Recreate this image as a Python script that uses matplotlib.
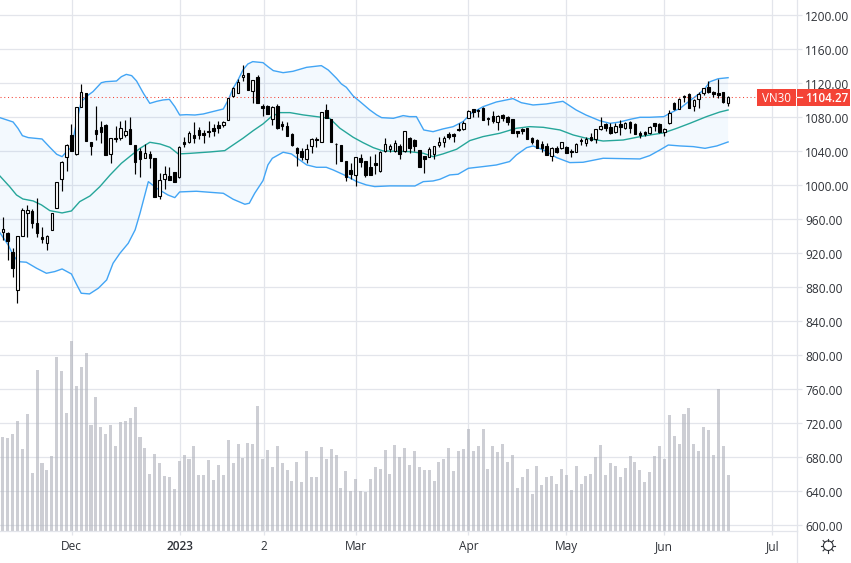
import numpy as np
import matplotlib
matplotlib.use("Agg")
import matplotlib.pyplot as plt
from matplotlib.lines import Line2D
from matplotlib.patches import Rectangle, Circle
from matplotlib.transforms import ScaledTranslation

# OHLC, one bar per trading day
opens = [945.5, 944.3, 922, 877.3, 940.8, 967.1, 969.8, 955.3, 938.9, 931.8,
         947.5, 973, 1007.1, 1033.7, 1058.8, 1036.9, 1092.5, 1108.2, 1050.6, 1064.7,
         1068.2, 1070.6, 1037.2, 1055.7, 1055.3, 1059.6, 1065.9, 1047.4, 1040.4, 1032.5,
         1036.5, 1031.8, 987.9, 1007.8, 1011, 1015.7, 1009.4, 1051, 1051.4, 1058.8,
         1065.1, 1061.6, 1064.3, 1067.1, 1070.6, 1071.4, 1076.5, 1105.5, 1109, 1127,
         1131.8, 1111.4, 1127, 1093, 1093, 1077.7, 1093.3, 1071.8, 1069.8, 1060.4,
         1043.9, 1040.8, 1031.4, 1046.7, 1054.5, 1051.4, 1088.2, 1077.7, 1049, 1047.1,
         1028.3, 1018.1, 1012.6, 1032.2, 1028.3, 1021.2, 1025.9, 1016.5, 1040.4, 1043.2,
         1040, 1046.3, 1040.8, 1055.3, 1053.3, 1041.2, 1034.5, 1033.3, 1036.9, 1047.5,
         1051, 1060, 1060, 1066.3, 1066.7, 1079.6, 1089.4, 1088.6, 1091, 1078.8,
         1081.2, 1074.1, 1082.3, 1080.8, 1078, 1063.9, 1065.9, 1067, 1055.3, 1053.7,
         1048.2, 1046.7, 1034.5, 1044.3, 1043.9, 1045.1, 1040, 1039.6, 1052.9, 1050.2,
         1056.5, 1054.1, 1065.9, 1072.1, 1068.2, 1062.7, 1072.1, 1067.8, 1074.1, 1072.1,
         1061.9, 1062.7, 1061.9, 1072.9, 1071.7, 1062.7, 1072.9, 1097.2, 1089.8, 1105.5,
         1107, 1093.7, 1101.9, 1109, 1115.6, 1109.4, 1108.2, 1109.4, 1097.2]
closes = [948.3, 934.5, 902.8, 940.4, 970.6, 970.6, 956.1, 944.3, 936.9, 940.4,
          967.1, 1003.5, 1027.8, 1047.8, 1040, 1091.7, 1109.4, 1052.5, 1046.7, 1060.8,
          1062.7, 1036.1, 1055.3, 1054.5, 1067, 1063.5, 1049, 1027.8, 1031, 1037.6,
          1032.5, 986.7, 1005.9, 1013, 1006.3, 1004.3, 1045.5, 1048.6, 1061.2, 1055.7,
          1059.2, 1059.6, 1062.3, 1064, 1067.1, 1074.1, 1102.8, 1114.1, 1121.2, 1129.4,
          1112.2, 1123.5, 1097.3, 1091, 1084.3, 1092.6, 1067.5, 1070.2, 1058.5, 1047.5,
          1038.1, 1033.8, 1042.4, 1054.1, 1053.4, 1085.9, 1078.8, 1050.6, 1048.3, 1029,
          1010.2, 1013.4, 1033, 1027.5, 1012.2, 1012.6, 1024, 1039.6, 1049, 1045.9,
          1049.4, 1036.5, 1063.9, 1044.3, 1046.3, 1022, 1030.6, 1042.4, 1045.9, 1050.6,
          1055.3, 1056.5, 1058.4, 1065.5, 1073.3, 1087.4, 1086.3, 1087.4, 1077.2, 1078,
          1076.1, 1081.6, 1078.8, 1074.5, 1062, 1062, 1063.5, 1054.9, 1051.4, 1043.9,
          1043.5, 1036.1, 1044.3, 1039.2, 1050.6, 1038.1, 1039.2, 1048.6, 1052.6, 1054.1,
          1053.7, 1065.9, 1069.8, 1067, 1061.2, 1069.8, 1068.2, 1072.9, 1067, 1060.4,
          1058.8, 1060.4, 1068.6, 1070.2, 1062.7, 1066.6, 1085.5, 1089.4, 1101.5, 1104.3,
          1091.3, 1100.4, 1107.8, 1114.1, 1109.4, 1107, 1106.6, 1097.6, 1104.27]
highs = [962.4, 945.1, 925.9, 940.4, 973.7, 976.5, 971.8, 984.7, 950.6, 941.6,
         967.1, 1003.9, 1028.2, 1048.2, 1071.7, 1091.7, 1119.2, 1108.2, 1051.4, 1093.3,
         1075.7, 1071.7, 1055.3, 1069.8, 1075.7, 1076.8, 1080, 1047.8, 1043.5, 1048.2,
         1040.4, 1031.8, 1014.1, 1022.7, 1021.2, 1016.1, 1045.9, 1057.2, 1064.3, 1074.1,
         1069, 1065.1, 1075.7, 1072.2, 1076.1, 1076.1, 1102.8, 1115.3, 1124.7, 1141.6,
         1131.8, 1123.9, 1129.4, 1095.3, 1094.5, 1093.3, 1095.3, 1075.7, 1074.9, 1061.2,
         1045.1, 1043.6, 1048.7, 1055.3, 1057.3, 1086.3, 1095.7, 1078, 1049.4, 1047.5,
         1029, 1025.9, 1033, 1036.9, 1029, 1034.5, 1036.9, 1040, 1055.3, 1048.7,
         1053.4, 1048.7, 1064.3, 1057.3, 1054.5, 1041.6, 1034.9, 1045.5, 1046.7, 1056.5,
         1058, 1063.1, 1061.2, 1073.7, 1076.1, 1088.6, 1089.4, 1089.4, 1092.5, 1080,
         1087, 1082.7, 1083.9, 1082, 1078.4, 1064.3, 1067.8, 1067, 1056.5, 1054.1,
         1052.2, 1049.4, 1045.5, 1046.3, 1051, 1046.7, 1042.4, 1049.4, 1055.3, 1056.5,
         1061.2, 1066.3, 1080, 1073.7, 1073.7, 1072.9, 1076.8, 1074.9, 1075.7, 1072.9,
         1064.3, 1064.3, 1069.8, 1073.7, 1073.7, 1067.4, 1088.6, 1098, 1102.3, 1106.2,
         1109, 1101.1, 1110.2, 1114.9, 1123.1, 1111.3, 1124.7, 1110.2, 1105.5]
lows = [935.7, 912.2, 892.6, 862, 940.8, 939.6, 949.4, 939.6, 931.8, 924,
        947.5, 973, 993.7, 1017.3, 1040, 1036.1, 1092.5, 1052.5, 1035.7, 1053.3,
        1050.2, 1036.1, 1026.7, 1051.4, 1053.3, 1057.2, 1049, 1013.3, 1010.2, 1031.8,
        1020.8, 986.7, 983.9, 995.3, 1006.3, 1004.3, 1009, 1045.1, 1050.2, 1050.2,
        1054.5, 1049.4, 1057.2, 1058.5, 1062, 1068.3, 1076.5, 1103.5, 1108.2, 1123.1,
        1112.2, 1097.3, 1097.3, 1081.6, 1084.3, 1071, 1066.7, 1065.1, 1058.5, 1046.7,
        1023.2, 1029.8, 1026.7, 1037.7, 1045.5, 1051.4, 1078.8, 1050.6, 1025.5, 1029,
        1005.5, 1007.1, 999.7, 1022, 1009.5, 1012.6, 1013, 1016.1, 1039.6, 1038.9,
        1039.2, 1031.4, 1039.6, 1038.4, 1040.8, 1021.2, 1014.9, 1033, 1031.4, 1044.7,
        1045.5, 1054.1, 1051.4, 1063.9, 1065.1, 1078.8, 1080.8, 1080.8, 1076.9, 1070.6,
        1072.9, 1065.1, 1076.1, 1070.6, 1062, 1057.3, 1060.4, 1054.5, 1048.6, 1043.5,
        1039.6, 1036.1, 1028.6, 1037.7, 1042.8, 1037.7, 1033.7, 1039.2, 1047.5, 1046.3,
        1052.2, 1050.2, 1065.1, 1064.3, 1060.4, 1062, 1059.6, 1066.6, 1061.9, 1060.4,
        1056.1, 1057.6, 1060.8, 1064.3, 1061.2, 1058, 1072.5, 1088.6, 1089.4, 1098.4,
        1090.6, 1087.8, 1090.6, 1106.6, 1108.2, 1104.3, 1103.1, 1096.8, 1093.7]

# Volume bar tops, given on the price scale the bars are seen against
vol_tops = [704, 702.8, 707.5, 722.8, 689.9, 731, 661.6, 782.8, 673.4, 665.2,
            681.6, 798, 781.6, 732.2, 816.9, 764, 786.3, 802.8, 718, 751,
            715.7, 707.5, 718, 693.4, 721.6, 722.8, 726.3, 739.2, 704, 691,
            660.5, 684, 673.4, 658.1, 657, 642.8, 675.7, 682.8, 678, 693.4,
            659.3, 659.3, 676.9, 653.4, 671, 659.3, 700.4, 673.4, 695.7, 679.3,
            696.9, 695.7, 740.4, 678, 688.7, 668.7, 693.4, 673.3, 665.1, 652.2,
            674.5, 651, 687.4, 656.9, 656.9, 692.1, 678, 689.8, 682.7, 644,
            663.9, 640.4, 654.5, 640.4, 639.2, 654.5, 668.6, 666.3, 688.6, 660.4,
            694.5, 680.4, 691, 671, 687.4, 668.6, 665.1, 665.1, 652.2, 674.5,
            678, 691, 663.9, 687.4, 689.8, 713.3, 687.4, 693.3, 713.3, 666.3,
            693.3, 686.3, 695.7, 674.5, 682.7, 644, 656.9, 666.3, 636.9, 669.8,
            647.5, 656.9, 658, 648.6, 666.3, 659.2, 641.6, 669.8, 648.6, 658,
            660.4, 680.4, 694.5, 659.2, 673.3, 669.8, 656.9, 667.4, 681.6, 674.5,
            665.1, 651, 662.7, 681.6, 693.3, 678, 729.8, 705.1, 695.7, 731,
            738, 695.7, 687.4, 715.7, 712.1, 682.7, 760.4, 693.3, 659.2]

# Bollinger bands, read at the bar positions where the curves bend
upper_idx = [-0.6, 2.1, 3.1, 4, 5.2, 8, 9.6, 11, 12.1, 13, 14, 15, 16, 17.2, 18.4, 20.1, 21, 23.2,
             24.2, 25.2, 26.3, 27.3, 28.7, 30, 31.4, 32.7, 34, 35.1, 36.1, 37.5, 39.2, 40.9, 42.2,
             45, 46, 47, 48, 49, 50, 51, 53.1, 54.1, 55.2, 57.2, 59.2, 62, 65, 66.4, 68.1, 69.1,
             70.1, 71.5, 72.9, 74.9, 76.3, 77.3, 79.7, 81.7, 83, 84.4, 85.9, 87.8, 89.8, 91.9,
             93.9, 95.6, 98, 100.7, 104.1, 105.8, 108.2, 110.9, 114.3, 117, 119, 121.8, 123.9,
             125.9, 128, 130, 132, 134.9, 136.1, 138.2, 140.2, 142.2, 143.3, 144.3, 146, 148]
upper = [1079.6, 1074.5, 1067, 1058.4, 1056.1, 1054.5, 1044.7, 1036.5, 1033.7, 1039.6, 1044.7, 1072.9,
         1098.4, 1105.1, 1110.2, 1120.7, 1121.9, 1122.7, 1127.8, 1130.5, 1129, 1122.7, 1108.2, 1096.4,
         1098.8, 1100.4, 1101.1, 1092.5, 1082.7, 1083.1, 1082.7, 1083.9, 1085.8, 1089.8, 1100.4, 1114.1,
         1123.9, 1135.7, 1142.7, 1145.5, 1144.3, 1139.6, 1134.9, 1132.5, 1134.1, 1138.8, 1140.8, 1135.7,
         1125.9, 1119.2, 1115.3, 1105.1, 1098.4, 1088.6, 1082.8, 1079.6, 1078.8, 1082, 1080.8, 1080.8,
         1065.1, 1063.1, 1066.3, 1069, 1074.9, 1084.7, 1092.5, 1098, 1102, 1097.2, 1094.5, 1095.7, 1098.8,
         1088.6, 1082.7, 1076, 1072.9, 1074.5, 1077.6, 1080, 1080, 1080.8, 1084.7, 1090.6, 1099.6, 1108.2,
         1114.1, 1121.9, 1125.4, 1126.6]

middle_idx = [-0.6, 1.4, 2.8, 4.1, 6.2, 7.9, 9.6, 12.1, 14, 15.7, 17.8, 19.8, 21.9, 24.2, 26.3, 28, 30,
              32.1, 34.1, 35.8, 38.2, 42.2, 45.3, 47, 49, 51.1, 53.1, 54.8, 56.5, 58.6, 61.3, 64, 66.7,
              68.8, 71.5, 73.5, 75.6, 77.6, 83, 85.8, 87.8, 89.8, 92.6, 95.3, 98, 101.4, 104.8, 107.5,
              110.3, 113.7, 116.4, 119.1, 122.5, 126.6, 130.7, 134.8, 137.5, 140.2, 143.6, 146.3, 148]
middle = [1011, 998.4, 988.6, 983.9, 981.6, 976.9, 970.2, 967.5, 969.8, 980.8, 987.5, 998.4, 1012.2,
          1025.9, 1035.7, 1043.5, 1050.6, 1048.6, 1044.7, 1036.9, 1037.6, 1039.2, 1040.8, 1047.5, 1055.3,
          1064.3, 1072.2, 1080.8, 1085.5, 1085.5, 1082.8, 1080.8, 1078.8, 1067.1, 1056.5, 1050.2, 1044.3,
          1040.4, 1039.6, 1037.7, 1033.7, 1036.9, 1042.4, 1052.6, 1057.3, 1061.2, 1067.1, 1069, 1068.2,
          1065.1, 1059.2, 1055.3, 1052.1, 1053.3, 1058, 1061.6, 1067, 1072.9, 1080.8, 1086.2, 1088.6]

lower_idx = [-0.6, 1.1, 2.1, 3.1, 4.8, 6.9, 8.9, 10.6, 12.1, 14, 15, 16, 17.7, 19.5, 21.2, 22.5, 23.9,
             25.6, 27, 28, 29.7, 31.4, 33.7, 35.1, 36.1, 39.5, 42.2, 45, 47, 49.4, 50.3, 51.4, 53.1,
             54.1, 55, 57.2, 58.9, 60.6, 62, 64, 66, 67.4, 70.1, 72.2, 74.2, 75.9, 79, 84.1, 85.8,
             87.8, 89.2, 91.2, 92.9, 95, 98, 100.7, 103.4, 104.8, 106.9, 108.2, 110.3, 113, 115.7,
             118.4, 122.5, 130, 132, 134.1, 135.8, 138.2, 140.9, 143.3, 145.7, 148]
lower = [944.3, 929.8, 918.1, 910.2, 909.5, 902.4, 896.5, 898.5, 901.6, 895.7, 884, 873, 872.2, 878.9,
         888.7, 908.3, 920, 931.8, 947.5, 967.1, 1004.3, 996.5, 988.6, 985.5, 992.2, 993, 991.8, 990.6,
         983.6, 977.7, 978.9, 990.6, 1005.5, 1024, 1031.8, 1038.9, 1036.9, 1029.8, 1024, 1021.2, 1021.2,
         1018.1, 1011, 1004.4, 1000.4, 998.5, 999.3, 999.2, 1004.3, 1005.1, 1007.1, 1012.2, 1013, 1020,
         1022, 1023.9, 1027.9, 1035.7, 1044.3, 1046.3, 1041.6, 1032.6, 1026.7, 1027.1, 1031.8, 1031, 1034.9,
         1041.6, 1047.4, 1046.3, 1045.5, 1043.5, 1046.3, 1051]

last_price = 1104.27
price_ticks = list(range(600, 1201, 40))
date_pos = [14.02, 36.06, 53.2, 72.15, 95, 115, 135, 157.04]
date_labels = ["Dec", "2023", "2", "Mar", "Apr", "May", "Jun", "Jul"]

W, H = 851, 563
GRID = "#E3E5EB"
TEXT = "#2f3238"
plt.rcParams["font.family"] = ["Open Sans", "DejaVu Sans"]

fig = plt.figure(figsize=(W / 100, H / 100), dpi=100)
ax = fig.add_axes([0, 1 - 531.3 / H, 796.7 / W, 531.3 / H])

# one bar is 4.9 px wide on the time axis, 40 price units are 34 px
ax.set_xlim(-0.57, 162.0)
ax.set_ylim(600 - 6 / 0.85, 600 + 525.3 / 0.85)

x = np.arange(len(closes))
opens_a, closes_a = np.array(opens), np.array(closes)
up = closes_a >= opens_a

ax.grid(True, color=GRID, linewidth=0.9, zorder=0)
ax.set_axisbelow(True)

# volume behind everything else
bottom = ax.get_ylim()[0]
ax.bar(x, np.array(vol_tops) - bottom, bottom=bottom, width=0.62, color="#B2B5BE", alpha=0.65,
       linewidth=0, zorder=1)

# bands
band_poly_x = upper_idx + lower_idx[::-1]
band_poly_y = upper + lower[::-1]
ax.fill(band_poly_x, band_poly_y, color="#2196F3", alpha=0.05, linewidth=0, zorder=1.5)
ax.plot(upper_idx, upper, color="#42A5F5", linewidth=1.0, zorder=2, solid_joinstyle="round")
ax.plot(lower_idx, lower, color="#42A5F5", linewidth=1.0, zorder=2, solid_joinstyle="round")
ax.plot(middle_idx, middle, color="#26A69A", linewidth=1.0, zorder=2, solid_joinstyle="round")

# last price line
ax.axhline(last_price, color="#F44336", linewidth=0.75, linestyle=(0, (1, 2.6)), zorder=2.5)

# candles
ax.vlines(x, lows, highs, color="black", linewidth=0.85, zorder=3)
body_low = np.minimum(opens_a, closes_a)
body_h = np.abs(closes_a - opens_a)
ax.bar(x[up], body_h[up], bottom=body_low[up], width=0.52, facecolor="white", edgecolor="black",
       linewidth=0.8, zorder=4)
ax.bar(x[~up], body_h[~up], bottom=body_low[~up], width=0.52, facecolor="black", edgecolor="black",
       linewidth=0.8, zorder=4)

# axes
for side in ["top", "left"]:
    ax.spines[side].set_visible(False)
for side in ["right", "bottom"]:
    ax.spines[side].set_color(GRID)
    ax.spines[side].set_linewidth(0.9)
ax.yaxis.tick_right()
ax.set_yticks(price_ticks)
ax.set_yticklabels([f"{v:.2f}" for v in price_ticks], fontsize=8.6, color=TEXT)
ax.set_xticks(date_pos)
ax.set_xticklabels(date_labels, fontsize=8.6, color=TEXT)
ax.tick_params(axis="y", length=3.6, width=0.9, color=GRID, pad=2.6)
ax.tick_params(axis="x", length=3, width=0.9, color=GRID, pad=3)
ax.get_xticklabels()[1].set_fontweight("semibold")
nudge = ScaledTranslation(0, -0.8 / 100, fig.dpi_scale_trans)
for lab in ax.get_yticklabels():
    lab.set_transform(lab.get_transform() + nudge)

# axis line runs on to the bottom of the picture
fig.add_artist(Line2D([796.7 / W, 796.7 / W], [0, 1 - 531 / H], color=GRID, linewidth=0.9))

# price tag
ly = 1 - 105.6 / H
lh = 16.2 / H
fig.add_artist(Rectangle((756.7 / W, ly), 39.0 / W, lh, color="#F44336", linewidth=0, zorder=5))
fig.add_artist(Rectangle((797.2 / W, ly), 52.8 / W, lh, color="#F44336", linewidth=0, zorder=5))
fig.add_artist(Line2D([797.2 / W, 802 / W], [1 - 97.3 / H] * 2, color="white", linewidth=0.9, zorder=6))
fig.text(776.2 / W, 1 - 98 / H, "VN30", color="white", fontsize=8.4, ha="center", va="center", zorder=6)
fig.text(827 / W, 1 - 98 / H, f"{last_price:.2f}", color="white", fontsize=8.4, ha="center",
         va="center", fontweight="semibold", zorder=6)

# settings icon in the corner
cx, cy = 828.2, 545.7
ax_icon = fig.add_axes([(cx - 9) / W, 1 - (cy + 9) / H, 18 / W, 18 / H])
ax_icon.set_xlim(-9, 9)
ax_icon.set_ylim(-9, 9)
ax_icon.axis("off")
ax_icon.add_patch(Circle((0, 0), 4.8, fill=False, edgecolor=TEXT, linewidth=0.8))
for a in np.arange(8) * np.pi / 4:
    ax_icon.plot([5.0 * np.cos(a), 7.2 * np.cos(a)], [5.0 * np.sin(a), 7.2 * np.sin(a)],
                 color=TEXT, linewidth=0.8)

fig.savefig("out.png", dpi=100)
